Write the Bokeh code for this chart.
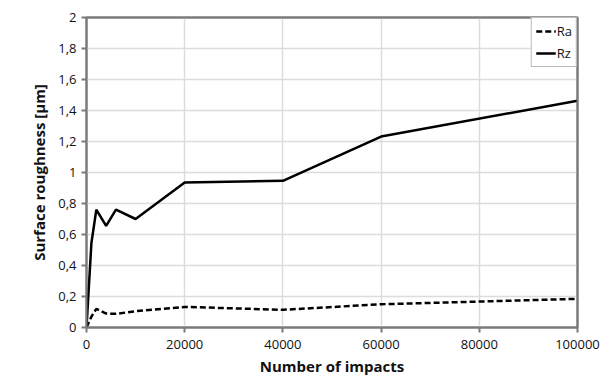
from bokeh.plotting import figure
from bokeh.models import FixedTicker, Legend, LegendItem, LinearAxis
from bokeh.embed import file_html
from bokeh.resources import INLINE

impacts = [0, 1000, 2000, 4000, 6000, 10000, 20000, 40000, 60000, 100000]
ra = [0.0, 0.07, 0.12, 0.09, 0.088, 0.105, 0.133, 0.114, 0.15, 0.185]
rz = [0.0, 0.545, 0.76, 0.655, 0.76, 0.70, 0.935, 0.946, 1.232, 1.463]
x_ticks = [0, 20000, 40000, 60000, 80000, 100000]
y_ticks = [0, 0.2, 0.4, 0.6, 0.8, 1.0, 1.2, 1.4, 1.6, 1.8, 2.0]
y_tick_labels = ["0", "0,2", "0,4", "0,6", "0,8", "1", "1,2", "1,4", "1,6", "1,8", "2"]

FONT = "Open Sans"
GRID = "#dcdcdc"
FRAME = "#7a7a7a"

p = figure(width=605, height=378, output_backend="svg", toolbar_location=None,
           x_range=(0, 100000), y_range=(0, 2),
           min_border_left=86, min_border_right=28, min_border_top=17, min_border_bottom=50)
p.outline_line_color = FRAME
p.outline_line_width = 2
p.background_fill_color = "white"
p.border_fill_color = "white"

xax = p.below[0]
yax = p.left[0]
xax.ticker = FixedTicker(ticks=x_ticks)
yax.ticker = FixedTicker(ticks=y_ticks)
yax.major_label_overrides = {t: l for t, l in zip(y_ticks, y_tick_labels)}
xax.major_label_overrides = {t: str(t) for t in x_ticks}

for ax in (xax, yax):
    ax.axis_line_color = FRAME
    ax.axis_line_width = 2
    ax.major_tick_line_color = FRAME
    ax.major_tick_line_width = 2
    ax.major_tick_in = 0
    ax.major_tick_out = 5
    ax.minor_tick_line_color = None
    ax.major_label_text_font = FONT
    ax.major_label_text_font_size = "13px"
    ax.major_label_text_color = "#111111"
    ax.axis_label_text_font = FONT
    ax.axis_label_text_font_size = "15px"
    ax.axis_label_text_font_style = "bold"
    ax.axis_label_text_color = "#111111"

xax.axis_label = "Number of impacts"
yax.axis_label = "Surface roughness [µm]"
xax.major_label_standoff = 7
yax.major_label_standoff = 5
xax.axis_label_standoff = 4
yax.axis_label_standoff = 6

p.xgrid.grid_line_color = GRID
p.ygrid.grid_line_color = GRID
p.xgrid.grid_line_width = 1.5
p.ygrid.grid_line_width = 1.5

# frame lines on top and right
for loc in ("above", "right"):
    a = LinearAxis(ticker=FixedTicker(ticks=[]), axis_line_color=FRAME, axis_line_width=2,
                   major_tick_line_color=None, minor_tick_line_color=None,
                   major_label_text_font_size="0px", major_label_standoff=0,
                   major_tick_out=0, major_tick_in=0)
    p.add_layout(a, loc)

r_ra = p.line(impacts, ra, line_color="black", line_width=2.5, line_dash="6 3")
r_rz = p.line(impacts, rz, line_color="black", line_width=2.5)

legend = Legend(items=[LegendItem(label="Ra", renderers=[r_ra]),
                       LegendItem(label="Rz", renderers=[r_rz])],
                location="top_right")
legend.label_text_font = FONT
legend.label_text_font_size = "13px"
legend.label_text_color = "#111111"
legend.glyph_width = 20
legend.glyph_height = 14
legend.label_standoff = 1
legend.spacing = 4
legend.padding = 4
legend.margin = 0
legend.label_height = 14
legend.label_width = 14
legend.border_line_color = FRAME
legend.border_line_width = 1.5
legend.background_fill_alpha = 1
p.add_layout(legend, "center")

open("out.html", "w").write(file_html(p, INLINE))
